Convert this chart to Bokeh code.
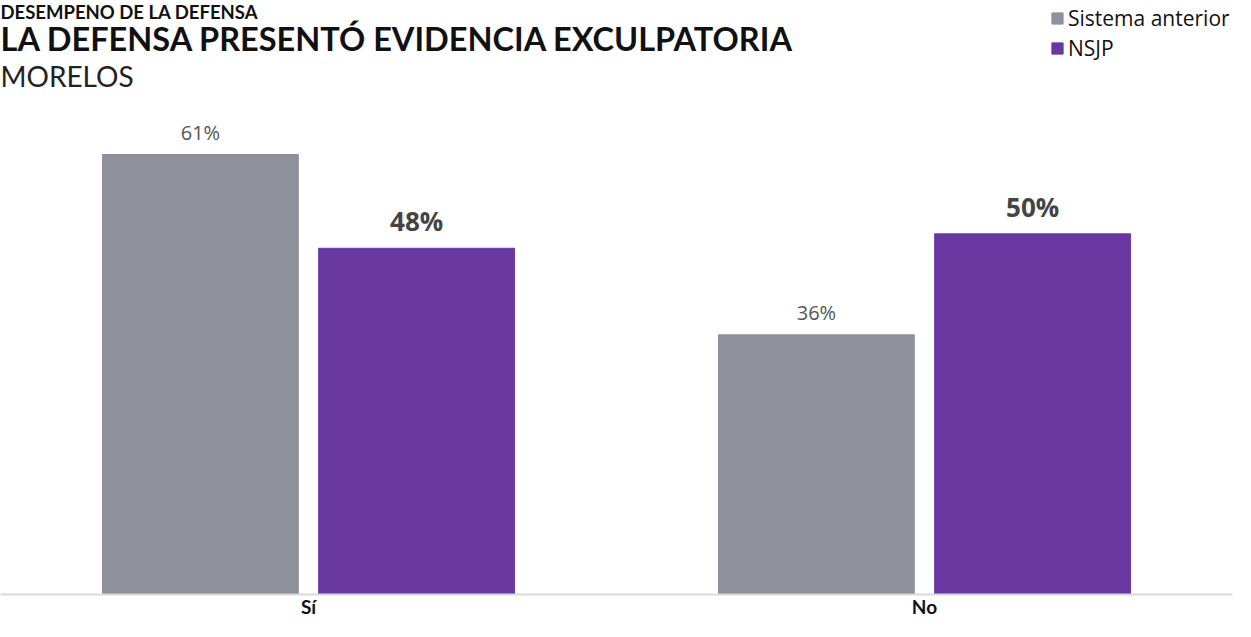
from bokeh.plotting import figure
from bokeh.models import ColumnDataSource, FactorRange, Range1d, Label, Legend
from bokeh.transform import dodge
from bokeh.core.properties import value
from bokeh.embed import file_html
from bokeh.resources import INLINE

# ---- data ----
categories = ["Sí", "No"]
series_names = ["Sistema anterior", "NSJP"]
sistema_anterior = [61, 36]
nsjp = [48, 50]
anterior_labels = [f"{v}%" for v in sistema_anterior]
nsjp_labels = [f"{v}%" for v in nsjp]

suptitle = "DESEMPENO DE LA DEFENSA"
title = "LA DEFENSA PRESENTÓ EVIDENCIA EXCULPATORIA"
subtitle = "MORELOS"

GRAY = "#8e919c"
PURPLE = "#6938a0"
FONT = "Lato"
FONT2 = "Open Sans"

src = ColumnDataSource(dict(cat=categories, ant=sistema_anterior, nsjp=nsjp,
                            ant_lbl=anterior_labels, nsjp_lbl=nsjp_labels))

FW, FH = 1232, 594
p = figure(frame_width=FW, frame_height=FH, output_backend="svg", toolbar_location=None,
           x_range=FactorRange(*categories), y_range=Range1d(0, 82.35),
           min_border_left=0, min_border_right=3, min_border_top=0, min_border_bottom=0)
p.outline_line_color = None
p.grid.visible = False
p.yaxis.visible = False
p.background_fill_color = "white"
p.border_fill_color = "white"

off = 0.1755
bw = 0.318
r1 = p.vbar(x=dodge("cat", -off, range=p.x_range), top="ant", width=bw, source=src,
            fill_color=GRAY, line_color=GRAY)
r2 = p.vbar(x=dodge("cat", off, range=p.x_range), top="nsjp", width=bw, source=src,
            fill_color=PURPLE, line_color=PURPLE)

p.text(x=dodge("cat", -off, range=p.x_range), y="ant", text="ant_lbl", source=src,
       text_align="center", text_baseline="bottom", y_offset=-9,
       text_font=value(FONT2), text_font_size="20px", text_color="#555555")
p.text(x=dodge("cat", off, range=p.x_range), y="nsjp", text="nsjp_lbl", source=src,
       text_align="center", text_baseline="bottom", y_offset=-9,
       text_font=value(FONT2), text_font_size="26px", text_font_style="bold",
       text_color="#444444")

ax = p.xaxis[0]
ax.axis_line_color = "#d9d9d9"
ax.axis_line_width = 2
ax.major_tick_line_color = None
ax.minor_tick_line_color = None
ax.major_tick_out = 0
ax.major_tick_in = 0
ax.minor_tick_out = 0
ax.major_label_standoff = 0
ax.major_label_text_font = FONT
ax.major_label_text_font_size = "19px"
ax.major_label_text_font_style = "bold"
ax.major_label_text_color = "#111111"

p.add_layout(Label(x=0, y=FH, x_units="screen", y_units="screen", text=suptitle,
                   text_font=FONT, text_font_size="18.5px", text_font_style="bold",
                   text_color="#111111", text_baseline="top"))
p.add_layout(Label(x=0, y=FH - 18, x_units="screen", y_units="screen", text=title,
                   text_font=FONT, text_font_size="32.5px", text_font_style="bold",
                   text_color="#111111", text_baseline="top"))
p.add_layout(Label(x=0, y=FH - 58, x_units="screen", y_units="screen", text=subtitle,
                   text_font=FONT, text_font_size="28px",
                   text_color="#222222", text_baseline="top"))

legend = Legend(items=[(series_names[0], [r1]), (series_names[1], [r2])],
                location=(1050, FH - 62), orientation="vertical")
legend.label_text_font = FONT2
legend.label_text_font_size = "21px"
legend.label_text_color = "#111111"
legend.glyph_width = 14
legend.glyph_height = 14
legend.label_standoff = 4
legend.spacing = 2
legend.padding = 0
legend.margin = 0
legend.border_line_alpha = 0
legend.background_fill_alpha = 0
p.add_layout(legend)

open("out.html", "w").write(file_html(p, INLINE))
